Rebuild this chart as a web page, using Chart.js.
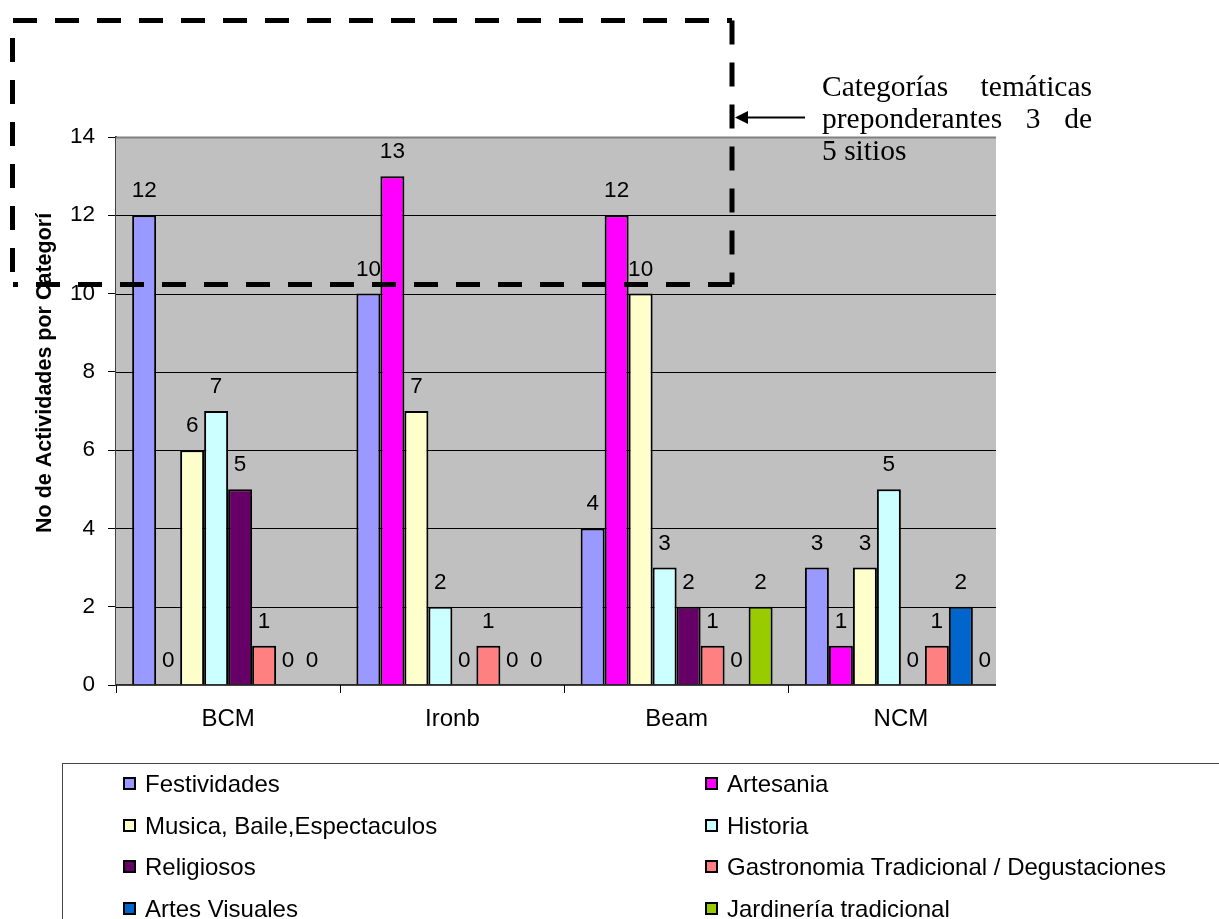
<!DOCTYPE html>
<html>
<head>
<meta charset="utf-8">
<script src="https://cdn.jsdelivr.net/npm/chart.js@4.4.1/dist/chart.umd.min.js"></script>
<style>
  body { margin: 0; background: #fff; overflow: hidden; }
  #wrap { position: relative; width: 1219px; height: 919px; }
  #chart { position: absolute; left: 0; top: 0; }
  #legend { position: absolute; left: 62px; top: 763px; width: 1200px; height: 200px;
            border: 1px solid #444; box-sizing: border-box; }
  .item { position: absolute; font: 24px "Liberation Sans", Arial, sans-serif; color: #000;
          white-space: nowrap; line-height: 28px; }
  .box { display: inline-block; width: 9px; height: 9px; border: 2px solid #000;
         margin-right: 9px; vertical-align: 2px; }
  #note { position: absolute; left: 822px; top: 70px; width: 270px;
          font: 29.5px "Liberation Serif", "Times New Roman", serif; line-height: 32px; color: #000; }
  #note .j { display: block; text-align: justify; text-align-last: justify; white-space: nowrap; }
  #note .l { display: block; text-align: left; }
</style>
</head>
<body>
<div id="wrap">
  <canvas id="chart" width="1219" height="919"></canvas>
  <div id="legend"></div>
  <div id="note"><span class="j">Categorías temáticas</span><span class="j">preponderantes 3 de</span><span class="l">5 sitios</span></div>
</div>
<script>
const sites = ['BCM', 'Ironb', 'Beam', 'NCM'];

const seriesNames = ['Festividades', 'Artesania', 'Musica, Baile,Espectaculos', 'Historia',
  'Religiosos', 'Gastronomia Tradicional / Degustaciones', 'Artes Visuales', 'Jardinería tradicional'];

const festividades = [12, 10, 4, 3];
const artesania = [0, 13, 12, 1];
const musica = [6, 7, 10, 3];
const historia = [7, 2, 3, 5];
const religiosos = [5, 0, 2, 0];
const gastronomia = [1, 1, 1, 1];
const artesVisuales = [0, 0, 0, 2];
const jardineria = [0, 0, 2, 0];

const seriesColors = ['#9999FF', '#FF00FF', '#FFFFCC', '#CCFFFF', '#660066', '#FF8080', '#0066CC', '#99CC00'];
const yTitle = 'No de Actividades por Categoría';

const seriesValues = [festividades, artesania, musica, historia, religiosos, gastronomia, artesVisuales, jardineria];

const plotRight = 996;  // gray plot area stops before the last category edge

// gray plot area + horizontal grid
const plotBack = {
    id: 'plotBack',
    beforeDatasetsDraw(chart) {
        const {ctx, chartArea} = chart;
        const y = chart.scales.y;
        ctx.save();
        ctx.fillStyle = '#C0C0C0';
        ctx.fillRect(chartArea.left, chartArea.top, plotRight - chartArea.left, chartArea.bottom - chartArea.top);
        y.ticks.forEach(t => {
            if (t.value === 0) return;
            const py = Math.round(y.getPixelForValue(t.value)) + 0.5;
            ctx.strokeStyle = t.value === 14 ? '#808080' : '#000';
            ctx.lineWidth = t.value === 14 ? 2 : 1;
            ctx.beginPath();
            ctx.moveTo(chartArea.left, py);
            ctx.lineTo(plotRight, py);
            ctx.stroke();
        });
        ctx.restore();
    },
    afterDatasetsDraw(chart) {
        const {ctx, chartArea} = chart;
        ctx.save();
        // x axis line
        ctx.strokeStyle = '#000';
        ctx.lineWidth = 1.5;
        ctx.beginPath();
        ctx.moveTo(chartArea.left, chartArea.bottom);
        ctx.lineTo(plotRight, chartArea.bottom);
        ctx.stroke();
        // value labels
        ctx.fillStyle = '#000';
        ctx.font = '22.5px "Liberation Sans", Arial, sans-serif';
        ctx.textAlign = 'center';
        ctx.textBaseline = 'alphabetic';
        chart.data.datasets.forEach((ds, i) => {
            chart.getDatasetMeta(i).data.forEach((bar, j) => {
                ctx.fillText(String(ds.data[j]), bar.x, bar.y - 18);
            });
        });
        ctx.restore();
    },
    afterDraw(chart) {
        const {ctx} = chart;
        ctx.save();
        // y axis title, clipped at the top like the original
        ctx.beginPath();
        ctx.rect(0, 213, 110, 500);
        ctx.clip();
        ctx.translate(51, 533);
        ctx.rotate(-Math.PI / 2);
        ctx.font = 'bold 21.5px "Liberation Sans", Arial, sans-serif';
        ctx.fillStyle = '#000';
        ctx.textAlign = 'left';
        ctx.textBaseline = 'alphabetic';
        ctx.fillText(yTitle, 0, 0);
        ctx.restore();

        // dashed annotation box
        ctx.save();
        ctx.strokeStyle = '#000';
        ctx.lineWidth = 5;
        ctx.setLineDash([24, 18]);
        ctx.beginPath();
        ctx.moveTo(13, 20.5);
        ctx.lineTo(732, 20.5);
        ctx.moveTo(732, 20.5);
        ctx.lineTo(732, 284.5);
        ctx.moveTo(732, 284.5);
        ctx.lineTo(13, 284.5);
        ctx.moveTo(12.5, 38);
        ctx.lineTo(12.5, 284.5);
        ctx.stroke();
        // arrow
        ctx.setLineDash([]);
        ctx.lineWidth = 2;
        ctx.beginPath();
        ctx.moveTo(805, 117.5);
        ctx.lineTo(738, 117.5);
        ctx.stroke();
        ctx.beginPath();
        ctx.moveTo(735, 117.5);
        ctx.lineTo(748, 111);
        ctx.lineTo(748, 124);
        ctx.closePath();
        ctx.fill();
        ctx.restore();
    }
};

const config = {
    type: 'bar',
    data: {
        labels: sites,
        datasets: seriesNames.map((name, i) => ({
            label: name,
            data: seriesValues[i],
            backgroundColor: seriesColors[i],
            borderColor: '#000',
            borderWidth: ctx => (ctx.raw === 0 ? 0 : 2),
            categoryPercentage: 0.856,
            barPercentage: 1
        }))
    },
    options: {
        responsive: false,
        animation: false,
        events: [],
        layout: { padding: { left: 0, top: 137, right: 1219 - 1013, bottom: 919 - 685 - 60 } },
        plugins: { legend: { display: false }, tooltip: { enabled: false } },
        scales: {
            x: {
                grid: {
                    offset: true,
                    drawOnChartArea: false,
                    tickLength: 8,
                    // no tick at the far right edge
                    color: ctx => (ctx.index === undefined || ctx.index >= sites.length ? 'rgba(0,0,0,0)' : '#000')
                },
                border: { display: false },
                ticks: { color: '#000', padding: 12, font: { family: '"Liberation Sans", Arial, sans-serif', size: 24 } },
                afterFit: s => { s.height = 60; }
            },
            y: {
                min: 0,
                max: 14,
                grid: { drawOnChartArea: false, tickLength: 8, color: '#000' },
                border: { color: '#404040', width: 2 },
                ticks: { stepSize: 2, color: '#000', padding: 13, font: { family: '"Liberation Sans", Arial, sans-serif', size: 22.5 } },
                afterFit: s => { s.width = 116; }
            }
        }
    },
    plugins: [plotBack]
};

const chart = new Chart(document.getElementById('chart'), config);

// legend, two columns, four rows
const legend = document.getElementById('legend');
seriesNames.forEach((name, i) => {
    const div = document.createElement('div');
    div.className = 'item';
    div.style.left = (i % 2 === 0 ? 123 - 63 : 705 - 63) + 'px';
    div.style.top = (783 - 763 - 14 + Math.floor(i / 2) * 41.7) + 'px';
    div.innerHTML = '<span class="box" style="background:' + seriesColors[i] + '"></span>' + name;
    legend.appendChild(div);
});
</script>
</body>
</html>
